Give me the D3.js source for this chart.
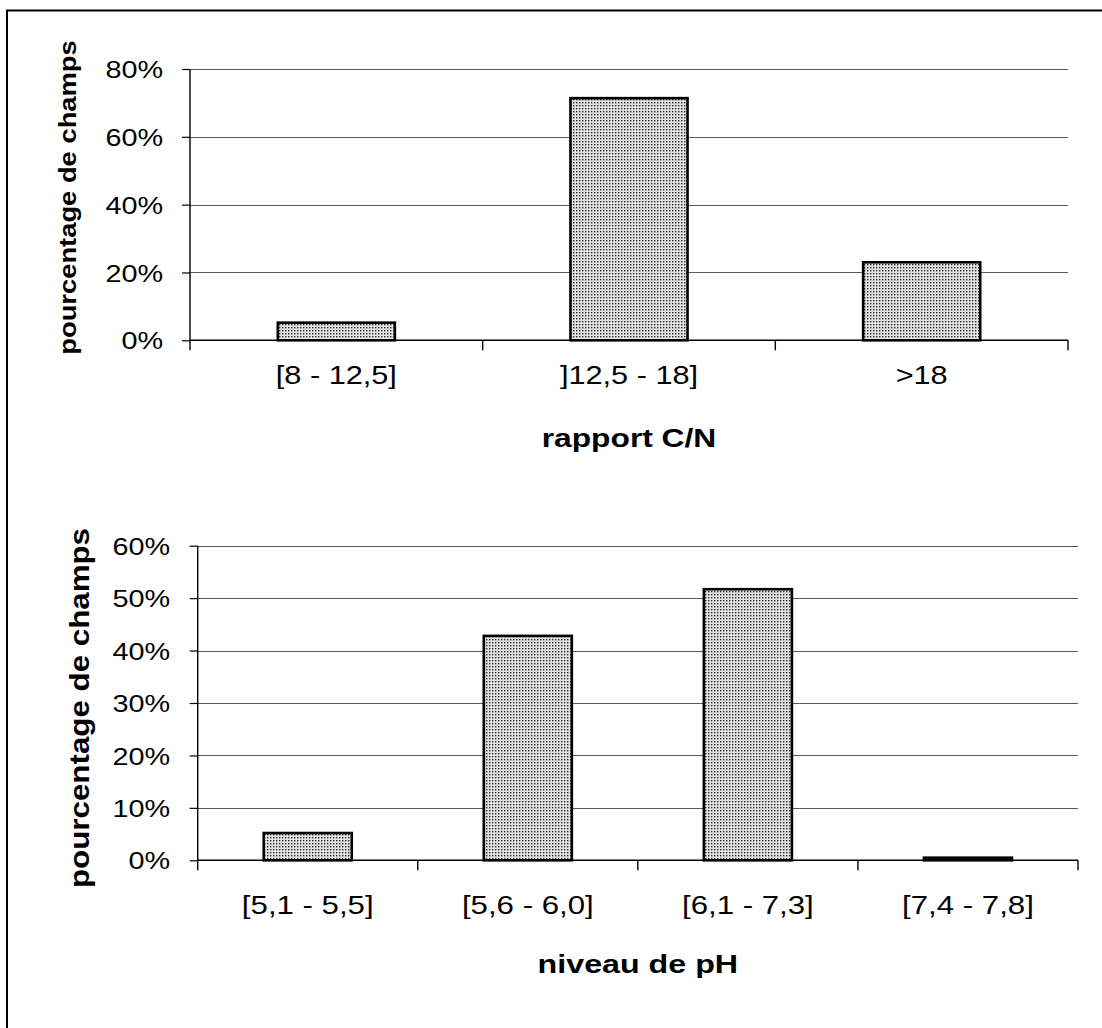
<!DOCTYPE html>
<html>
<head>
<meta charset="utf-8">
<script src="https://cdn.jsdelivr.net/npm/d3@7"></script>
<style>
  html, body { margin: 0; padding: 0; background: #fff; }
  svg { display: block; font-family: "Liberation Sans", Arial, sans-serif; }
</style>
</head>
<body>
<svg id="chart" width="1102" height="1028"></svg>
<script>
// ---- Data ----
const cnCategories = ["[8 - 12,5]", "]12,5 - 18]", ">18"];
const cnValues = [5.2, 71.4, 23.0];
const cnTicks = [0, 20, 40, 60, 80];
const cnXTitle = "rapport C/N";

const phCategories = ["[5,1 - 5,5]", "[5,6 - 6,0]", "[6,1 - 7,3]", "[7,4 - 7,8]"];
const phValues = [5.2, 42.8, 51.7, 0.5];
const phTicks = [0, 10, 20, 30, 40, 50, 60];
const phXTitle = "niveau de pH";

const yTitle = "pourcentage de champs";

// ---- Drawing ----
const svg = d3.select("#chart");
svg.append("rect").attr("width", 1102).attr("height", 1028).attr("fill", "#fff");

// dotted fill pattern
const defs = svg.append("defs");
const pat = defs.append("pattern").attr("id", "dots")
  .attr("patternUnits", "userSpaceOnUse").attr("width", 3).attr("height", 3);
pat.append("rect").attr("width", 3).attr("height", 3).attr("fill", "#e2e2e2");
pat.append("rect").attr("x", 0).attr("y", 0).attr("width", 1.4).attr("height", 1.4).attr("fill", "#2e2e2e");

// outer frame (clipped on right and bottom)
svg.append("path").attr("d", "M7,1028V10.5H1102")
  .attr("fill", "none").attr("stroke", "#000").attr("stroke-width", 2);

function drawChart(opts) {
  const { cats, vals, ticks, left, right, top, bottom, yMax,
          tickFont, tickSX, xLabFont, xLabSX, xLabY, titleFont, titleSX, titleBase, titleX,
          yTitleFont, yTitleSX, yTitleX, yTitleY, yLabGap } = opts;
  const g = svg.append("g");

  const y = d3.scaleLinear().domain([0, yMax]).range([bottom, top]);
  const x = d3.scaleBand().domain(cats).range([left, right])
    .paddingInner(0.6).paddingOuter(0.3);

  // gridlines
  g.append("g").selectAll("line").data(ticks.filter(t => t > 0)).join("line")
    .attr("x1", left).attr("x2", right)
    .attr("y1", d => Math.round(y(d)) + 0.5).attr("y2", d => Math.round(y(d)) + 0.5)
    .attr("stroke", "#5a5a5a").attr("stroke-width", 1);

  // y axis
  const yAxis = d3.axisLeft(y).tickValues(ticks).tickFormat(d => d + "%")
    .tickSize(8).tickSizeOuter(0);
  const ya = g.append("g").attr("transform", `translate(${left},0)`).call(yAxis);
  ya.select(".domain").remove();
  ya.selectAll(".tick line").attr("stroke", "#000").attr("stroke-width", 1.2);
  ya.selectAll(".tick text")
    .attr("x", -yLabGap / tickSX).attr("dy", "0.36em")
    .attr("transform", `scale(${tickSX},1)`)
    .attr("font-size", tickFont).attr("font-family", "Liberation Sans, Arial, sans-serif")
    .attr("fill", "#000");
  // y axis line extends below to tick length
  g.append("line").attr("x1", left).attr("x2", left).attr("y1", top).attr("y2", bottom + 10)
    .attr("stroke", "#000").attr("stroke-width", 1.4);

  // bars
  g.append("g").selectAll("rect").data(vals).join("rect")
    .attr("x", (d, i) => x(cats[i]))
    .attr("width", x.bandwidth())
    .attr("y", d => y(d))
    .attr("height", d => y(0) - y(d))
    .attr("fill", "url(#dots)")
    .attr("stroke", "#000").attr("stroke-width", 2.6);

  // x axis line
  g.append("line").attr("x1", left).attr("x2", right).attr("y1", bottom).attr("y2", bottom)
    .attr("stroke", "#000").attr("stroke-width", 1.4);
  // category boundary ticks
  const bounds = d3.range(cats.length + 1).map(i => left + i * x.step());
  g.append("g").selectAll("line").data(bounds.slice(1)).join("line")
    .attr("x1", d => d).attr("x2", d => d).attr("y1", bottom).attr("y2", bottom + 10)
    .attr("stroke", "#000").attr("stroke-width", 1.4);

  // x category labels
  g.append("g").selectAll("text").data(cats).join("text")
    .attr("transform", d => `translate(${x(d) + x.bandwidth() / 2},${xLabY}) scale(${xLabSX},1)`)
    .attr("text-anchor", "middle").attr("dy", "0.36em")
    .attr("font-size", xLabFont).attr("fill", "#000")
    .text(d => d);

  // x title
  g.append("text")
    .attr("transform", `translate(${(left + right) / 2},${titleBase}) scale(${titleSX},1)`)
    .attr("text-anchor", "middle").attr("font-weight", "bold")
    .attr("font-size", titleFont).attr("fill", "#000")
    .text(titleX);

  // y title
  g.append("text")
    .attr("transform", `translate(${yTitleX},${yTitleY}) rotate(-90) scale(${yTitleSX},1)`)
    .attr("text-anchor", "middle").attr("font-weight", "bold")
    .attr("font-size", yTitleFont).attr("fill", "#000")
    .text(yTitle);
}

drawChart({
  cats: cnCategories, vals: cnValues, ticks: cnTicks, yMax: 80,
  left: 190, right: 1068, top: 69, bottom: 340.3,
  tickFont: 24, tickSX: 1.2, yLabGap: 27,
  xLabFont: 26, xLabSX: 1.18, xLabY: 375,
  titleFont: 25, titleSX: 1.27, titleBase: 447, titleX: cnXTitle,
  yTitleFont: 24, yTitleSX: 1.14, yTitleX: 76, yTitleY: 197.5
});

drawChart({
  cats: phCategories, vals: phValues, ticks: phTicks, yMax: 60,
  left: 197.7, right: 1078, top: 545.7, bottom: 860.3,
  tickFont: 24, tickSX: 1.2, yLabGap: 27.7,
  xLabFont: 26, xLabSX: 1.2, xLabY: 905,
  titleFont: 26, titleSX: 1.24, titleBase: 973, titleX: phXTitle,
  yTitleFont: 27, yTitleSX: 1.16, yTitleX: 89, yTitleY: 708
});
</script>
</body>
</html>
